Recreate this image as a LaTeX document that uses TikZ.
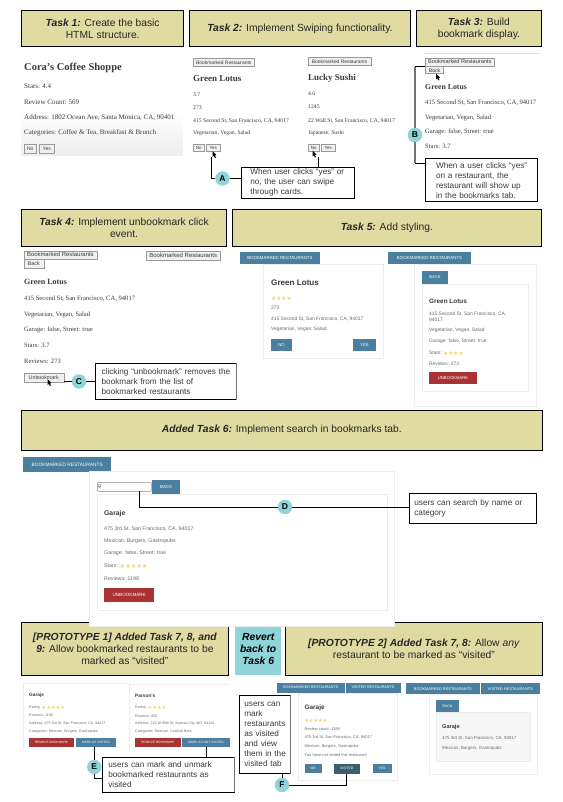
\documentclass[tikz,border=0pt]{standalone}
\usepackage{fontspec}
\usepackage{xcolor}
\setmainfont{Liberation Serif}
\setsansfont{Liberation Sans}
\newfontfamily\symfont{DejaVu Sans}
\usetikzlibrary{calc, positioning}
\definecolor{olive}{HTML}{DFDBA2}
\definecolor{teal}{HTML}{8FD4D8}
\definecolor{steel}{HTML}{4A7F9F}
\definecolor{deepsteel}{HTML}{3C5F6E}
\definecolor{brick}{HTML}{A93232}
\definecolor{rim}{HTML}{ECECEC}
\definecolor{ink}{HTML}{3A3A3A}
\definecolor{soft}{HTML}{6A6A6A}
\definecolor{gold}{HTML}{F4D568}
\newcommand{\fs}[1]{\fontsize{#1}{#1}\selectfont}
\newcommand{\pad}[1]{\hspace*{#1pt}}
\tikzset{
  wh/.style 2 args={minimum width=#1pt, minimum height=#2pt},
  taskbox/.style={draw, line width=0.8pt, fill=olive, anchor=north west, inner sep=0pt, align=center, font=\sffamily\fontsize{10.3}{12}\selectfont, text=black!85},
  note/.style={draw, line width=0.7pt, fill=white, anchor=north west, inner ysep=0pt, inner xsep=1pt, align=left, text=ink, font=\sffamily\fontsize{8.2}{10}\selectfont},
  badge/.style={circle, fill=teal, inner sep=0pt, minimum size=14.5pt, font=\sffamily\bfseries\fs{8.5}},
  wire/.style={line width=0.8pt},
  graywire/.style={line width=1.2pt, draw=black!55},
  srf/.style={anchor=west, inner sep=0pt, text=ink, font=\rmfamily\fs{#1}},
  sns/.style={anchor=west, inner sep=0pt, text=soft, font=\sffamily\fs{#1}},
  oldbtn/.style={draw=black!40, fill=black!6, anchor=north west, inner sep=0pt, text=ink, line width=0.5pt, font=\sffamily\fs{#1}},
  flatbtn/.style={fill=steel, anchor=north west, inner sep=0pt, text=white, font=\sffamily\fs{#1}},
  redbtn/.style={fill=brick, anchor=north west, inner sep=0pt, text=white, font=\sffamily\fs{#1}},
  card/.style={draw=rim, fill=white, line width=0.7pt, anchor=north west, inner sep=0pt},
  stars/.style={anchor=west, inner sep=0pt, text=gold, font=\symfont\fs{#1}},
  cursor/.pic={\fill (0,0) -- (0,6) -- (1.4,4.8) -- (2.4,7) -- (3.4,6.5) -- (2.4,4.4) -- (4,4.2) -- cycle;}
}
\begin{document}
\begin{tikzpicture}[x=1pt, y=-1pt]
\useasboundingbox (0,0) rectangle (562,802);

\node[taskbox, wh={162}{36}] (task1) at (21.3,10.3) {\textbf{\textit{Task 1:}} Create the basic\\HTML structure.};
\node[taskbox, wh={220.4}{36}] (task2) at (189.3,10.3) {\textbf{\textit{Task 2:}} Implement Swiping functionality.};
\node[taskbox, wh={124.4}{36}] (task3) at (416.3,10.3) {\textbf{\textit{Task 3:}} Build\\bookmark display.};
\node[taskbox, wh={204.7}{36.4}] (task4) at (21.3,209.3) {\textbf{\textit{Task 4:}} Implement unbookmark click\\event.};
\node[taskbox, wh={308.4}{36.4}] (task5) at (232.3,209.3) {\textbf{\textit{Task 5:}} Add styling.};
\node[taskbox, wh={520.4}{39.8}] (task6) at (21.3,409.7) {\textbf{\textit{Added Task 6:}} Implement search in bookmarks tab.};
\node[taskbox, wh={206.4}{52.4}] (proto1) at (21.3,622.3) {\textbf{\textit{[PROTOTYPE 1] Added Task 7, 8, and}}\\\textbf{\textit{9:}} Allow bookmarked restaurants to be\\marked as ``visited''};
\node[fill=teal, anchor=north west, inner sep=0pt, align=center, wh={46}{53}, font=\sffamily\bfseries\itshape\fontsize{10.3}{12}\selectfont] (revert) at (235,622) {Revert\\back to\\Task 6};
\node[taskbox, wh={256.4}{52.4}] (proto2) at (285.3,622.3) {\textbf{\textit{[PROTOTYPE 2] Added Task 7, 8:}} Allow \textit{any}\\restaurant to be marked as ``visited''};

\shade[top color=white, bottom color=black!7] (21,112) rectangle (183,156);
\node[srf=10.5, font=\rmfamily\bfseries\fs{10.5}] (cora) at (24,68) {Cora's Coffee Shoppe};
\node[srf=7] at (24,86.3) {Stars: 4.4};
\node[srf=7] at (24,102) {Review Count: 569};
\node[srf=7] at (24,117.5) {Address: 1802 Ocean Ave, Santa Monica, CA, 90401};
\node[srf=7] at (24,133) {Categories: Coffee \& Tea, Breakfast \& Brunch};
\node[oldbtn=5, wh={12}{8.5}] at (24,144.5) {No};
\node[oldbtn=5, wh={15}{8.5}] at (39,144.5) {Yes};

\node[oldbtn=4.9, wh={61}{7.5}] at (193,58.5) {Bookmarked Restaurants};
\node[srf=9, font=\rmfamily\bfseries\fs{9}] at (193,79) {Green Lotus};
\node[srf=5.7] at (193,94.5) {3.7};
\node[srf=5.7] at (193,107.5) {273};
\node[srf=5.7] at (193,120.5) {415 Second St, San Francisco, CA, 94017};
\node[srf=5.7] at (193,133.5) {Vegetarian, Vegan, Salad};
\node[oldbtn=4.5, wh={11}{7}] at (193,144) {No};
\node[oldbtn=4.5, wh={14}{7}] (yes2) at (206,144) {Yes};
\pic at (212.5,151) {cursor};

\node[oldbtn=4.9, wh={63.3}{7.8}] at (307.7,57.5) {Bookmarked Restaurants};
\node[srf=9, font=\rmfamily\bfseries\fs{9}] at (308,78) {Lucky Sushi};
\node[srf=5.7] at (308,94) {4.6};
\node[srf=5.7] at (308,107) {1245};
\node[srf=5.7] at (308,120.5) {22 Wall St, San Francisco, CA, 94017};
\node[srf=5.7] at (308,133.5) {Japanese, Sushi};
\node[oldbtn=4.5, wh={11}{7}] at (308,144) {No};
\node[oldbtn=4.5, wh={14}{7}] at (321,144) {Yes};
\pic at (312.5,150.5) {cursor};

\draw[line width=1pt, draw=black!12] (424,54) -- (541,54);
\node[oldbtn=5.6, wh={68.4}{8}] (book3) at (425.3,57.7) {Bookmarked Restaurants};
\node[oldbtn=5.2, wh={18}{7}] (back3) at (425.3,66.5) {Back};
\pic at (436,73.5) {cursor};
\node[srf=7.8, font=\rmfamily\bfseries\fs{7.8}] at (425,87) {Green Lotus};
\node[srf=6.6] at (425,103) {415 Second St, San Francisco, CA, 94017};
\node[srf=6.6] at (425,117.7) {Vegetarian, Vegan, Salad};
\node[srf=6.6] at (425,132) {Garage: false, Street: true};
\node[srf=6.6] at (425,146.7) {Stars: 3.7};

\node[oldbtn=5.9, wh={73.2}{8}] at (23.5,250.5) {Bookmarked Restaurants};
\node[oldbtn=5.4, wh={20}{8.5}] at (23.5,259.3) {Back};
\node[srf=8, font=\rmfamily\bfseries\fs{8}] at (24,282) {Green Lotus};
\node[srf=6.6] at (24,299) {415 Second St, San Francisco, CA, 94017};
\node[srf=6.6] at (24,314.7) {Vegetarian, Vegan, Salad};
\node[srf=6.6] at (24,330) {Garage: false, Street: true};
\node[srf=6.6] at (24,345.5) {Stars: 3.7};
\node[srf=6.6] at (24,361) {Reviews: 273};
\node[oldbtn=5.3, wh={40}{8.7}] (unbook4) at (23.5,373) {Unbookmark};
\pic at (47.5,379) {cursor};
\node[oldbtn=6, wh={74.6}{9}] at (145.7,251) {Bookmarked Restaurants};

\node[card, wh={119.4}{94.3}] at (263.3,264) {};
\node[flatbtn=4.4, wh={79.3}{12.3}] at (240,251.7) {BOOKMARKED RESTAURANTS};
\node[sns=8.1, font=\sffamily\bfseries\fs{8.1}, text=ink] at (271,282.3) {Green Lotus};
\node[stars=5.7] at (271,298) {★★★★};
\node[sns=4.9] at (271,308) {273};
\node[sns=4.9] at (271,318.7) {415 Second St, San Francisco, CA, 94017};
\node[sns=4.9] at (271,329) {Vegetarian, Vegan, Salad};
\node[flatbtn=4.2, wh={20.7}{12}] at (271,339) {NO};
\node[flatbtn=4.2, wh={23}{12}] at (352.7,339) {YES};

\node[card, wh={121.4}{141.7}] at (414.3,264) {};
\node[card, wh={106.6}{107.6}] at (421.7,283.7) {};
\node[flatbtn=4.4, wh={82.7}{12}] at (388,251.7) {BOOKMARKED RESTAURANTS};
\node[flatbtn=4.2, wh={26.3}{12.3}] at (421.7,271) {BACK};
\node[sns=6.4, font=\sffamily\bfseries\fs{6.4}, text=ink] at (429,301) {Green Lotus};
\node[sns=4.9, align=left] at (429,317) {415 Second St, San Francisco, CA,\\[1pt]94017};
\node[sns=4.9] at (429,330.7) {Vegetarian, Vegan, Salad};
\node[sns=4.9] at (429,341.3) {Garage: false, Street: true};
\node[sns=4.9] at (429,353) {Stars:};
\node[stars=5.7] at (443,353) {★★★★};
\node[sns=4.9] at (429,364) {Reviews: 273};
\node[redbtn=4.2, wh={47.7}{12}] at (429,372) {UNBOOKMARK};

\node[flatbtn=4.8, wh={88}{14.5}] at (23,457) {BOOKMARKED RESTAURANTS};
\node[card, wh={305.3}{155}] at (88.7,471) {};
\node[card, wh={289.8}{116.6}] at (96.7,493.7) {};
\node[draw=black!45, line width=0.5pt, rounded corners=1pt, anchor=north west, inner sep=0pt, wh={54}{9}] (search) at (97,482) {};
\node[anchor=west, inner sep=0pt, font=\sffamily\fs{5}, text=ink] at (98,486.5) {g};
\node[flatbtn=4.4, wh={28}{14}] at (152,479.5) {BACK};
\node[sns=6.8, font=\sffamily\bfseries\fs{6.8}, text=ink] at (104,513.5) {Garaje};
\node[sns=5.3] at (104,528.5) {475 3rd St, San Francisco, CA, 94017};
\node[sns=5.3] at (104,541) {Mexican, Burgers, Gastropubs};
\node[sns=5.3] at (104,553) {Garage: false, Street: true};
\node[sns=5.3] at (104,566) {Stars:};
\node[stars=6.2] at (119.5,566) {★★★★★};
\node[sns=5.3] at (104,578.5) {Reviews: 1198};
\node[redbtn=4.6, wh={50}{14}] at (104,588) {UNBOOKMARK};

\draw[line width=0.4pt, draw=rim] (23.5,749) -- (23.5,683) -- (129,683) -- (129,749);
\draw[line width=0.4pt, draw=rim] (129.5,684) -- (230,684);
\node[sns=4.8, font=\sffamily\bfseries\fs{4.8}, text=ink] at (29,695.7) {Garaje};
\node[sns=3.6] at (29,707.3) {Rating:};
\node[stars=5.2] at (41.5,707.3) {★★★★★};
\node[sns=3.6] at (29,715.5) {Reviews: 1198};
\node[sns=3.6] at (29,723.5) {Address: 475 3rd St, San Francisco, CA, 94017};
\node[sns=3.6] at (29,731.5) {Categories: Mexican, Burgers, Gastropubs};
\node[redbtn=3.2, wh={45.5}{9}] at (28.5,738) {REMOVE BOOKMARK};
\node[flatbtn=3.2, wh={40.5}{9}] (markvisit) at (75.5,738) {MARK AS VISITED};
\node[sns=4.8, font=\sffamily\bfseries\fs{4.8}, text=ink] at (135,696.3) {Parson's};
\node[sns=3.6] at (135,708) {Rating:};
\node[stars=5.2] at (147.5,708) {★★★★};
\node[sns=3.6] at (135,716) {Reviews: 450};
\node[sns=3.6] at (135,724) {Address: 215 W 85th St, Kansas City, MO, 64114};
\node[sns=3.6] at (135,732) {Categories: Mexican, Cocktail Bars};
\node[redbtn=3.2, wh={45.5}{9}] at (135,738) {REMOVE BOOKMARK};
\node[flatbtn=3.2, wh={47.5}{9}] (marknot) at (182,738) {MARK AS NOT VISITED};

\node[card, wh={98.4}{86.7}] at (298.3,693) {};
\node[flatbtn=3.7, wh={67.3}{10}] at (277,682.3) {BOOKMARKED RESTAURANTS};
\node[flatbtn=3.7, wh={55}{10}] at (345.3,682.3) {VISITED RESTAURANTS};
\node[sns=6.4, font=\sffamily\bfseries\fs{6.4}, text=ink] at (304.5,708) {Garaje};
\node[stars=5] at (304.5,720.5) {★★★★★};
\node[sns=4] at (304.5,729) {Review count: 1198};
\node[sns=4] at (304.5,737.7) {475 3rd St, San Francisco, CA, 94017};
\node[sns=4] at (304.5,746.3) {Mexican, Burgers, Gastropubs};
\node[sns=4] at (304.5,755) {You have not visited this restaurant};
\node[flatbtn=3.4, wh={17}{9.7}] at (304.3,763.3) {NO};
\node[flatbtn=3.4, fill=deepsteel, wh={26.4}{10}] (visited) at (333.3,763.3) {VISITED};
\node[flatbtn=3.4, wh={19}{9.7}] at (372.3,763.3) {YES};

\node[card, wh={107.4}{79.5}] at (429.3,694) {};
\node[card, fill=black!3, wh={94.3}{49.5}] at (435.7,711.5) {};
\node[flatbtn=3.9, wh={73.3}{11}] at (406,683) {BOOKMARKED RESTAURANTS};
\node[flatbtn=3.9, wh={59.7}{11}] at (480.3,683) {VISITED RESTAURANTS};
\node[flatbtn=3.6, wh={23.3}{11.3}] at (435.7,700) {BACK};
\node[sns=5.6, font=\sffamily\bfseries\fs{5.6}, text=ink] at (442,726.7) {Garaje};
\node[sns=4.4] at (442,738) {475 3rd St, San Francisco, CA, 94017};
\node[sns=4.4] at (442,748) {Mexican, Burgers, Gastropubs};

\node[note, wh={112.4}{31}, text width=110.4pt] (noteA) at (241.3,166.7) {\pad{7.7}When user clicks ``yes'' or\\\pad{7.7}no, the user can swipe\\\pad{7.7}through cards.};
\node[note, wh={112}{43}, text width=110pt] (noteB) at (424.7,158.3) {\pad{10}When a user clicks ``yes''\\\pad{10}on a restaurant, the\\\pad{10}restaurant will show up\\\pad{10}in the bookmarks tab.};
\node[note, wh={140.7}{36}, text width=138.7pt] (noteC) at (95.3,363.3) {\pad{5}clicking ``unbookmark'' removes the\\\pad{5}bookmark from the list of\\\pad{5}bookmarked restaurants};
\node[note, wh={127}{30.5}, text width=125pt] (noteD) at (409,492.5) {\pad{4}users can search by name or\\\pad{4}category};
\node[note, wh={131.4}{35}, text width=129.4pt] (noteE) at (102.3,756.7) {\pad{4.7}users can mark and unmark\\\pad{4.7}bookmarked restaurants as\\\pad{4.7}visited};
\node[note, wh={50.7}{78}, text width=48.7pt] (noteF) at (239.3,695.3) {\pad{3.7}users can\\\pad{3.7}mark\\\pad{3.7}restaurants\\\pad{3.7}as visited\\\pad{3.7}and view\\\pad{3.7}them in the\\\pad{3.7}visited tab};

\node[badge] (badgeA) at (222.5,178.5) {A};
\node[badge] (badgeB) at (415,135) {B};
\node[badge] (badgeC) at (79,381.5) {C};
\node[badge] (badgeD) at (285,507) {D};
\node[badge] (badgeE) at (94.3,767) {E};
\node[badge] (badgeF) at (282,785) {F};

\coordinate (endA) at (211.5,157);
\coordinate (endA2) at (318,157);
\coordinate (topB) at (415,66.6);
\coordinate (lowB) at (415,163);
\coordinate (endD) at (139.5,491);
\coordinate (lowE) at (94.5,778.5);

\draw[wire] (endA) |- (badgeA);
\draw[wire] (badgeA) -- (badgeA -| noteA.west);
\draw[wire] (endA2) -- (endA2 |- noteA.north);
\draw[graywire] (badgeB) -- (topB);
\draw[graywire] (badgeB) -- (lowB);
\draw[wire] (topB) -- (topB -| back3.west);
\draw[wire] (lowB) -- (lowB -| noteB.west);
\draw[wire] (unbook4.east |- badgeC) -- (badgeC);
\draw[wire] (badgeC) -- (badgeC -| noteC.west);
\draw[wire] (endD) |- (badgeD);
\draw[wire] (badgeD) -- (badgeD -| noteD.west);
\draw[wire] (markvisit.south -| badgeE) -- (badgeE);
\draw[wire] (badgeE) |- (lowE) -- (lowE -| noteE.west);
\draw[wire] (marknot.south) -- (marknot.south |- noteE.north);
\draw[wire] (noteF.south -| badgeF) -- (badgeF);
\draw[wire] (badgeF) -| (visited.south);
\draw[graywire] (noteC.north east) -- (noteC.south east);
\draw[graywire] (noteE.north east) -- (noteE.south east);
\draw[graywire] (noteF.north east) -- (noteF.south east);
\end{tikzpicture}
\end{document}
